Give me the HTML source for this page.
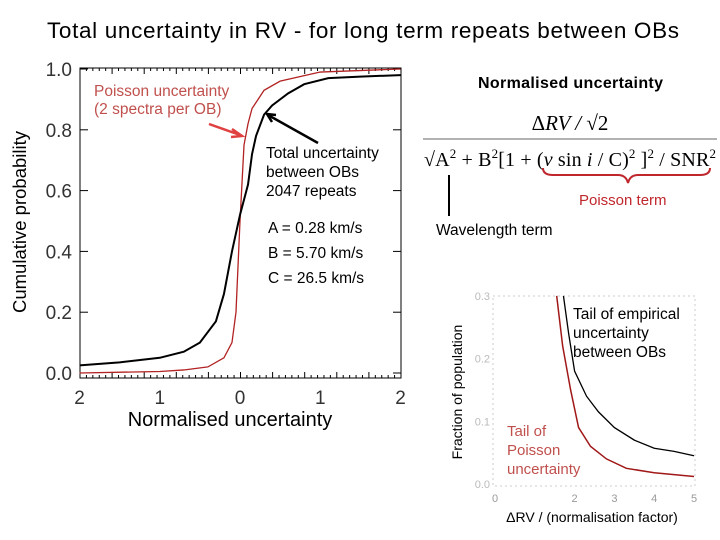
<!DOCTYPE html>
<html><head><meta charset="utf-8"><style>
body{margin:0;background:#fff;}
svg{display:block;font-family:"Liberation Sans",sans-serif;}
</style></head><body>
<svg width="720" height="540" viewBox="0 0 720 540">
<text x="363" y="38" font-size="22.5" text-anchor="middle" textLength="632">Total uncertainty in RV - for long term repeats between OBs</text>
<g id="main"></g>
<g id="inset"></g>
<g font-family="Liberation Serif,serif">
<text x="570" y="130" font-size="21" text-anchor="middle" font-style="italic"><tspan font-style="normal">Δ</tspan>RV / <tspan font-style="normal">√2</tspan></text>
<line x1="423" y1="139" x2="717" y2="139" stroke="#999" stroke-width="1.5"/>
<text x="424" y="166" font-size="20" textLength="292">√A<tspan font-size="13" dy="-8">2</tspan><tspan dy="8"> + B</tspan><tspan font-size="13" dy="-8">2</tspan><tspan dy="8">[1 + (</tspan><tspan font-style="italic">v</tspan> sin <tspan font-style="italic">i</tspan> / C)<tspan font-size="13" dy="-8">2</tspan><tspan dy="8"> ]</tspan><tspan font-size="13" dy="-8">2</tspan><tspan dy="8"> / SNR</tspan><tspan font-size="13" dy="-8">2</tspan></text>
</g>
<path d="M543,168 Q543,175 553,175 L618,175 Q626,175 628,183 Q630,175 638,175 L700,175 Q710,175 710,168" fill="none" stroke="#c0272d" stroke-width="2"/>
<text x="579" y="205" font-size="15" fill="#c0272d">Poisson term</text>
<line x1="449" y1="175" x2="449" y2="216" stroke="#000" stroke-width="2"/>
<text x="436" y="235" font-size="15.5">Wavelength term</text>
<text x="478" y="88" font-size="16" font-weight="bold" textLength="185">Normalised uncertainty</text>
</svg>
<script>
const mainX=[-2,-1.5,-1,-0.7,-0.5,-0.3,-0.2,-0.1,0,0.1,0.15,0.2,0.3,0.4,0.6,0.8,1.1,1.5,2];
const mainTotal=[0.025,0.035,0.05,0.07,0.10,0.17,0.26,0.40,0.52,0.62,0.72,0.78,0.85,0.88,0.92,0.95,0.97,0.975,0.98];
const poissonX=[-2,-1,-0.7,-0.4,-0.2,-0.1,-0.05,0,0.05,0.1,0.15,0.3,0.5,1,2];
const poissonCum=[0.0,0.005,0.01,0.02,0.05,0.10,0.2,0.5,0.75,0.82,0.87,0.93,0.96,0.99,1.0];
const mainYTicks=["0.0","0.2","0.4","0.6","0.8","1.0"];
const mainXTicks=[-2,-1,0,1,2];
const mainXLabels=["2","1","0","1","2"];
const insetEmpX=[1.72,1.85,2.0,2.3,2.6,3.0,3.5,4.0,4.5,5];
const insetEmpY=[0.3,0.24,0.18,0.14,0.115,0.09,0.07,0.057,0.052,0.045];
const insetPoiX=[1.55,1.7,1.9,2.1,2.4,2.8,3.3,4,5];
const insetPoiY=[0.3,0.22,0.15,0.09,0.06,0.04,0.025,0.018,0.012];
const insetYTicks=["0.0","0.1","0.2","0.3"];
const insetXTicks=[0,2,3,4,5];

const NS="http://www.w3.org/2000/svg";
function mk(p,t,a,txt){const e=document.createElementNS(NS,t);for(const k in a)e.setAttribute(k,a[k]);if(txt!==undefined)e.textContent=txt;p.appendChild(e);return e;}
const g=document.getElementById('main');
const L=80,R=401,T=68,B=378;
const xm=v=>240+v*80.25, ym=v=>373-v*304;
let e=mk(g,'rect',{x:L,y:T,width:R-L,height:B-T,fill:'none',stroke:'#000','stroke-width':1});


for(let i=0;i<=50;i++){const x=L+i*(R-L)/50;mk(g,'line',{x1:x,y1:T,x2:x,y2:T+(i%5?3:6),stroke:'#000'});mk(g,'line',{x1:x,y1:B,x2:x,y2:B-(i%5?3:6),stroke:'#000'});}
mainYTicks.forEach(t=>{const y=ym(+t);mk(g,'line',{x1:L,y1:y,x2:L+8,y2:y,stroke:'#000'});mk(g,'line',{x1:R,y1:y,x2:R-8,y2:y,stroke:'#000'});
 e=mk(g,'text',{x:72,y:y+7,'font-size':19,'text-anchor':'end',fill:'#333'},t);
 
 });
mainXTicks.forEach((v,i)=>{e=mk(g,'text',{x:xm(v),y:404,'font-size':19,'text-anchor':'middle',fill:'#333'},mainXLabels[i]);
 
 });
e=mk(g,'text',{x:230,y:426,'font-size':20,'text-anchor':'middle'},'Normalised uncertainty');


e=mk(g,'text',{x:0,y:0,'font-size':18.5,'text-anchor':'middle',transform:'translate(26,222) rotate(-90)'},'Cumulative probability');


e=mk(g,'polyline',{points:poissonX.map((v,i)=>xm(v)+','+ym(poissonCum[i])).join(' '),fill:'none',stroke:'#b22222','stroke-width':1.3});


e=mk(g,'polyline',{points:mainX.map((v,i)=>xm(v)+','+ym(mainTotal[i])).join(' '),fill:'none',stroke:'#000','stroke-width':2});


e=mk(g,'text',{x:94,y:96,'font-size':15.5,fill:'#c0504d'},'Poisson uncertainty');


mk(g,'text',{x:94,y:114,'font-size':15.5,fill:'#c0504d'},'(2 spectra per OB)');
e=mk(g,'path',{d:'M209,124 L240,135 M232,129 L242,136 L231,137',stroke:'#e04040','stroke-width':2.5,fill:'none'});


e=mk(g,'path',{d:'M318,143 L268,115 M276,115 L267,114 L272,122',stroke:'#000','stroke-width':2.5,fill:'none'});


['Total uncertainty','between OBs','2047 repeats'].forEach((s,i)=>{e=mk(g,'text',{x:266,y:158+i*19,'font-size':15.5},s);
 
 });
['A = 0.28 km/s','B = 5.70 km/s','C = 26.5 km/s'].forEach((s,i)=>{e=mk(g,'text',{x:268,y:233+i*25,'font-size':15.5},s);
 
 });
const h=document.getElementById('inset');
const iL=493,iR=695,iT=296,iB=486;
const xi=v=>495+v*39.8, yi=v=>484-v*627;
e=mk(h,'rect',{x:iL,y:iT,width:iR-iL,height:iB-iT,fill:'none',stroke:'#ccc','stroke-dasharray':'2,3'});


insetYTicks.forEach(t=>{e=mk(h,'text',{x:490,y:yi(+t)+4,'font-size':11,'text-anchor':'end',fill:'#bbb'},t);
 
 });
insetXTicks.forEach(v=>{e=mk(h,'text',{x:xi(v),y:502,'font-size':11,'text-anchor':'middle',fill:'#999'},String(v));
 
 });
e=mk(h,'text',{x:0,y:0,'font-size':14,'text-anchor':'middle',transform:'translate(462,392) rotate(-90)'},'Fraction of population');


e=mk(h,'text',{x:592,y:522,'font-size':14,'text-anchor':'middle'},'ΔRV / (normalisation factor)');


e=mk(h,'polyline',{points:insetPoiX.map((v,i)=>xi(v)+','+yi(insetPoiY[i])).join(' '),fill:'none',stroke:'#a01818','stroke-width':1.5});


e=mk(h,'polyline',{points:insetEmpX.map((v,i)=>xi(v)+','+yi(insetEmpY[i])).join(' '),fill:'none',stroke:'#000','stroke-width':1.3});


['Tail of empirical','uncertainty','between OBs'].forEach((s,i)=>{e=mk(h,'text',{x:573,y:319+i*19,'font-size':15.5},s);
 
 });
['Tail of','Poisson','uncertainty'].forEach((s,i)=>{e=mk(h,'text',{x:507,y:436+i*19,'font-size':15,fill:'#c0504d'},s);
 
 });
</script>
</body></html>
